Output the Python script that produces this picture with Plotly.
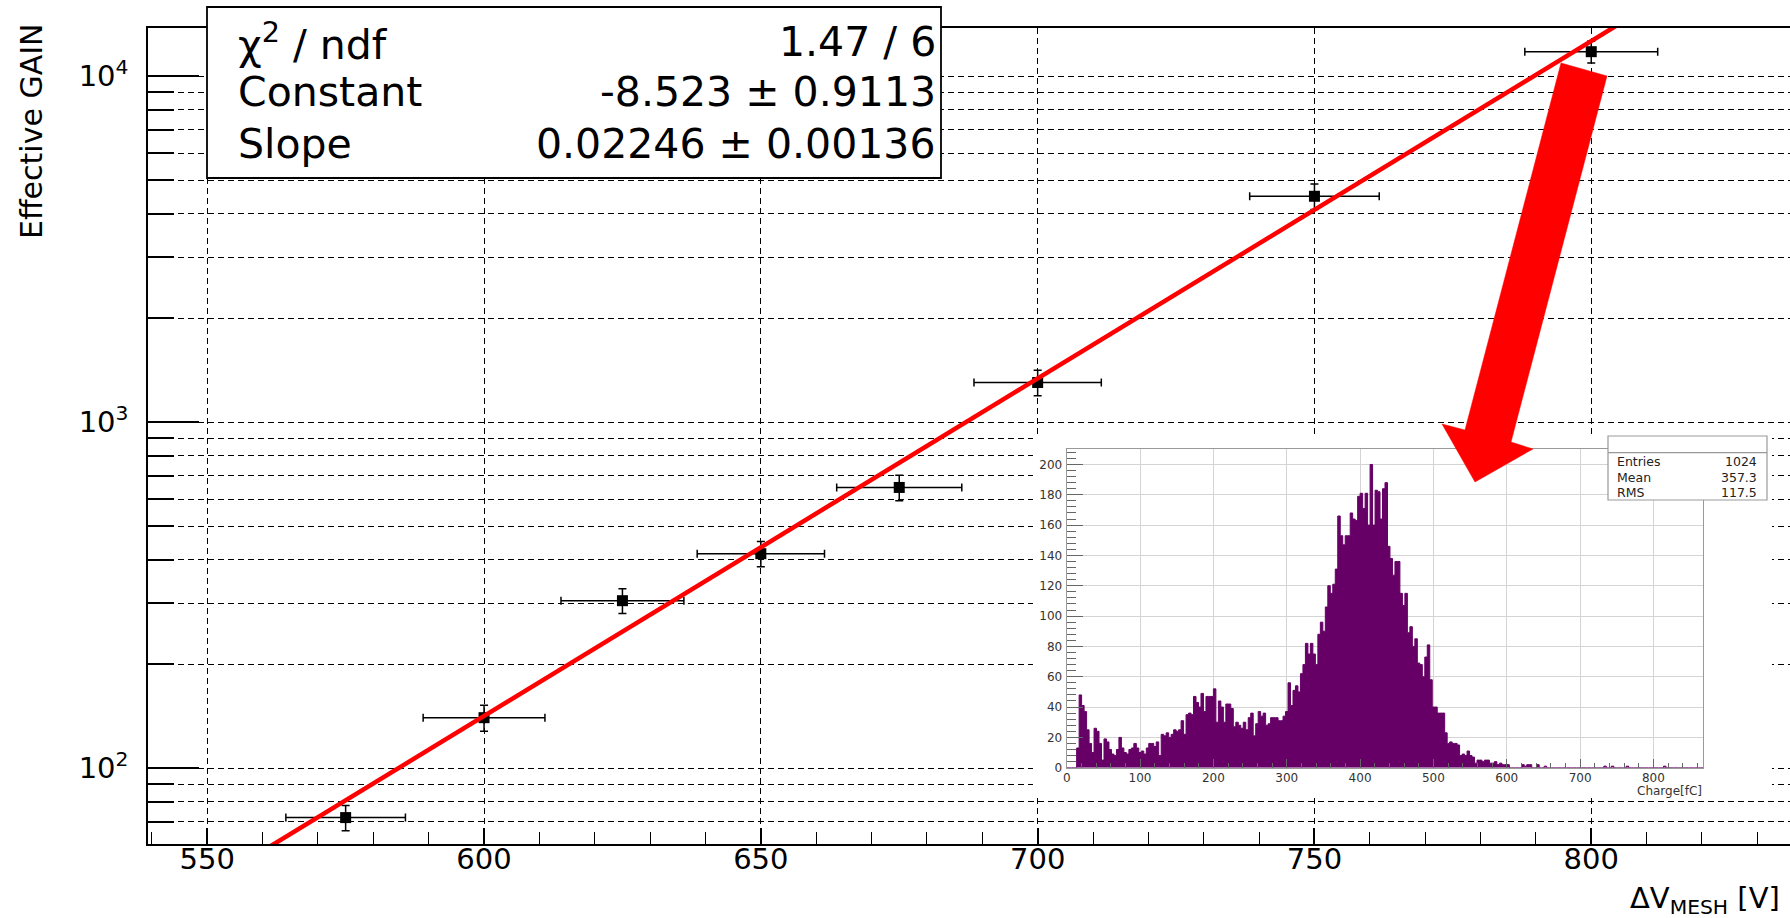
import numpy as np
import plotly.graph_objects as go

# ---------------- canvas geometry ----------------
W, H = 1790, 918
ML, MR, MT, MB = 148, 0, 28, 74

# ---------------- main data ----------------
voltage = [575, 600, 625, 650, 675, 700, 750, 800]
gain = [72, 140, 305, 417, 648, 1303, 4500, 11780]
voltage_err = [10.8, 11.0, 11.1, 11.5, 11.3, 11.5, 11.7, 12.0]
gain_err = [6, 12, 25, 35, 55, 110, 380, 860]

fit_constant = -8.523
fit_slope = 0.02246
fit_range = [555, 812]

x_ticks = [550, 600, 650, 700, 750, 800]
y_major = [100, 1000, 10000]
y_major_text = ["10<sup>2</sup>", "10<sup>3</sup>", "10<sup>4</sup>"]
y_minor = [60, 70, 80, 90, 200, 300, 400, 500, 600, 700, 800, 900,
           2000, 3000, 4000, 5000, 6000, 7000, 8000, 9000]

stats_labels = ["χ<sup>2</sup> / ndf", "Constant", "Slope"]
stats_values = ["1.47 / 6", "-8.523 ± 0.9113", "0.02246 ± 0.00136"]

# ---------------- inset histogram ----------------
hist_min, hist_max, hist_nbins = 0.0, 868.0, 256
hist_counts = [
    0, 0, 0, 0,
    13, 48, 41, 37, 25, 16, 10, 26, 24, 16,
    5, 19, 17, 12, 9, 8, 12, 20, 13, 10,
    9, 12, 13, 16, 13, 10,
    11,
    9, 13, 16, 16, 14, 17, 8, 22, 21, 23, 20,
    22, 25, 24, 25, 31, 22, 35, 36, 35, 47,
    43, 40, 49, 37, 47, 47, 47, 52, 30, 44,
    40, 30, 42, 42, 39, 27, 30, 28, 26, 30,
    25, 33, 36, 21, 29, 37, 34, 36, 28, 29,
    33, 33, 33,
    31, 31, 34, 37, 56, 41,
    51, 54, 50, 62, 68, 82, 75, 82, 75, 68,
    88, 96, 90, 106, 120, 115, 121, 131, 166, 153,
    147, 153, 153, 168, 164, 163, 179, 181, 171, 181,
    160, 200, 160, 183, 182, 164, 184, 188, 146, 138,
    127, 136, 136, 115, 107, 115, 89, 93, 80, 85,
    69, 68, 60, 73, 81, 58,
    40, 40, 36,
    36, 36, 23,
    16, 17, 16, 16, 15,
    8, 9, 8,
    11,
    8, 7,
    3,
    5, 5, 4, 5, 5,
    3, 3,
    4,
    2,
    3, 2,
    2, 2,
    0, 0, 0, 0, 0,
    2, 1, 2, 2, 0, 0, 2, 0, 0, 1,
    0, 0, 0, 0, 0, 0, 0, 0, 0, 0, 0, 0, 0, 0, 0, 0, 0, 0, 0, 0, 0, 0, 0,
    1,
    0, 0,
    1,
    0, 0, 0, 0, 0,
    1,
    0, 0, 0, 0, 0, 0, 0, 0, 0, 0, 0, 0, 0, 0,
    1,
    0, 0, 0, 0, 0, 0, 0, 0, 0, 0, 0, 0, 0, 0, 0,
]
hist_xticks = [0, 100, 200, 300, 400, 500, 600, 700, 800]
hist_yticks = [0, 20, 40, 60, 80, 100, 120, 140, 160, 180, 200]
inset_stats_labels = ["Entries", "Mean", "RMS"]
inset_stats_values = ["1024", "357.3", "117.5"]

PURPLE = "#660066"
RED = "#ff0000"
FONT = "DejaVu Sans"


def px(x):
    return (x - ML) / (W - ML - MR)


def py(y):
    return (H - MB - y) / (H - MT - MB)


fig = go.Figure()

# data points
fig.add_trace(go.Scatter(
    x=voltage, y=gain, mode="markers",
    marker=dict(symbol="square", size=11, color="black"),
    error_x=dict(type="data", array=voltage_err, color="black", thickness=1.5, width=4),
    error_y=dict(type="data", array=gain_err, color="black", thickness=1.5, width=4),
    hoverinfo="skip", showlegend=False,
))

# exponential fit line
fit_x = np.linspace(fit_range[0], fit_range[1], 400)
fit_y = np.exp(fit_constant + fit_slope * fit_x)
fig.add_trace(go.Scatter(
    x=fit_x, y=fit_y, mode="lines",
    line=dict(color=RED, width=4.5), hoverinfo="skip", showlegend=False,
))

# blank white panel behind inset (its own subplot gives a white background)
fig.add_trace(go.Scatter(
    x=[0], y=[0], xaxis="x2", yaxis="y2", mode="markers",
    marker=dict(opacity=0), hoverinfo="skip", showlegend=False,
))

# inset histogram
bw = (hist_max - hist_min) / hist_nbins
edges = hist_min + bw * np.arange(len(hist_counts) + 1)
step_y = list(hist_counts) + [hist_counts[-1]]
fig.add_trace(go.Scatter(
    x=edges, y=step_y, xaxis="x3", yaxis="y3", mode="lines",
    line=dict(color=PURPLE, width=1, shape="hv"),
    fill="tozeroy", fillcolor=PURPLE, hoverinfo="skip", showlegend=False,
))

grid_dash = "6px,4px"

layout = dict(
    width=W, height=H,
    margin=dict(l=ML, r=MR, t=MT, b=MB, autoexpand=False),
    paper_bgcolor="white", plot_bgcolor="white",
    showlegend=False,
    font=dict(family=FONT, color="black"),
    xaxis=dict(
        range=[539.3, 835.9], tickmode="array", tickvals=x_ticks,
        ticks="inside", ticklen=16, tickwidth=1.5, tickcolor="black",
        minor=dict(dtick=10, tick0=0, ticks="inside", ticklen=12, tickwidth=1.2,
                   tickcolor="black", showgrid=False),
        showgrid=True, gridcolor="black", griddash=grid_dash, gridwidth=1,
        showline=True, linecolor="black", linewidth=1.5, mirror=True,
        zeroline=False, tickfont=dict(size=29, family=FONT),
        ticklabelstandoff=-12,
    ),
    yaxis=dict(
        type="log", range=[1.781, 4.1396], tickmode="array",
        tickvals=y_major, ticktext=y_major_text,
        ticks="inside", ticklen=51, tickwidth=1.5, tickcolor="black",
        minor=dict(tickmode="array", tickvals=y_minor, ticks="inside", ticklen=26,
                   tickwidth=1.5, tickcolor="black", showgrid=True,
                   gridcolor="black", griddash=grid_dash, gridwidth=1),
        showgrid=True, gridcolor="black", griddash=grid_dash, gridwidth=1,
        showline=True, linecolor="black", linewidth=1.5, mirror=False,
        zeroline=False, tickfont=dict(size=29, family=FONT),
        ticklabelstandoff=12,
    ),
    xaxis2=dict(domain=[px(1033), px(1772)], anchor="y2", visible=False, range=[0, 1]),
    yaxis2=dict(domain=[py(797), py(434)], anchor="x2", visible=False, range=[0, 1]),
    xaxis3=dict(
        domain=[px(1066.7), px(1703.3)], anchor="y3", range=[hist_min, hist_max],
        tickmode="array", tickvals=hist_xticks,
        ticks="inside", ticklen=9, tickwidth=1, tickcolor="#666",
        minor=dict(dtick=20, tick0=0, ticks="inside", ticklen=5, tickwidth=1,
                   tickcolor="#666", showgrid=False),
        showgrid=True, gridcolor="#d4d4d4", gridwidth=1,
        showline=True, linecolor="#999", linewidth=1.2, mirror=True,
        zeroline=False, tickfont=dict(size=12, color="#333", family=FONT),
        ticklabelstandoff=-1,
    ),
    yaxis3=dict(
        domain=[py(767.7), py(449.3)], anchor="x3", range=[0, 210],
        tickmode="array", tickvals=hist_yticks,
        ticks="inside", ticklen=16, tickwidth=1, tickcolor="#666",
        minor=dict(dtick=4, tick0=0, ticks="inside", ticklen=9, tickwidth=1,
                   tickcolor="#666", showgrid=False),
        showgrid=True, gridcolor="#d4d4d4", gridwidth=1,
        showline=True, linecolor="#999", linewidth=1.2, mirror=True,
        zeroline=False, tickfont=dict(size=12, color="#333", family=FONT),
        ticklabelstandoff=1,
    ),
)
fig.update_layout(**layout)

shapes = []
# main fit statistics box
shapes.append(dict(type="rect", xref="paper", yref="paper",
                   x0=px(207), x1=px(941), y0=py(178), y1=py(7),
                   line=dict(color="black", width=1.8), fillcolor="white", layer="above"))
# inset statistics box
shapes.append(dict(type="rect", xref="paper", yref="paper",
                   x0=px(1608), x1=px(1767), y0=py(500), y1=py(436),
                   line=dict(color="#999", width=1.2), fillcolor="white", layer="above"))
shapes.append(dict(type="line", xref="paper", yref="paper",
                   x0=px(1608), x1=px(1767), y0=py(452.7), y1=py(452.7),
                   line=dict(color="#999", width=1.2), layer="above"))
# big red arrow pointing to the inset
arrow_pts = [(1561, 63), (1607, 76), (1511, 442), (1533, 449), (1475, 482),
             (1442, 424), (1465, 430)]
path = "M " + " L ".join(f"{px(a):.5f},{py(b):.5f}" for a, b in arrow_pts) + " Z"
shapes.append(dict(type="path", xref="paper", yref="paper", path=path,
                   fillcolor=RED, line=dict(color=RED, width=0.5), layer="above"))
fig.update_layout(shapes=shapes)

ann = []
row_y = [42, 92, 144]
for lab, val, yy in zip(stats_labels, stats_values, row_y):
    ann.append(dict(text=lab, x=px(236), y=py(yy), xref="paper", yref="paper",
                    xanchor="left", yanchor="middle", showarrow=False,
                    font=dict(size=41, family=FONT, color="black")))
    ann.append(dict(text=val, x=px(938), y=py(yy), xref="paper", yref="paper",
                    xanchor="right", yanchor="middle", showarrow=False,
                    font=dict(size=41, family=FONT, color="black")))

inset_rows = [461, 477, 492]
for lab, val, yy in zip(inset_stats_labels, inset_stats_values, inset_rows):
    ann.append(dict(text=lab, x=px(1615), y=py(yy), xref="paper", yref="paper",
                    xanchor="left", yanchor="middle", showarrow=False,
                    font=dict(size=12.5, family=FONT, color="#222")))
    ann.append(dict(text=val, x=px(1759), y=py(yy), xref="paper", yref="paper",
                    xanchor="right", yanchor="middle", showarrow=False,
                    font=dict(size=12.5, family=FONT, color="#222")))

ann.append(dict(text="Charge[fC]", x=px(1704), y=py(791), xref="paper", yref="paper",
                xanchor="right", yanchor="middle", showarrow=False,
                font=dict(size=12, family=FONT, color="#333")))
ann.append(dict(text="Effective GAIN", x=px(31), y=py(132), xref="paper", yref="paper",
                xanchor="center", yanchor="middle", textangle=-90, showarrow=False,
                font=dict(size=30, family=FONT, color="black")))
ann.append(dict(text="ΔV<sub>MESH</sub> [V]", x=px(1782), y=py(900), xref="paper", yref="paper",
                xanchor="right", yanchor="middle", showarrow=False,
                font=dict(size=29, family=FONT, color="black")))
fig.update_layout(annotations=ann)

fig.write_html("out.html")
